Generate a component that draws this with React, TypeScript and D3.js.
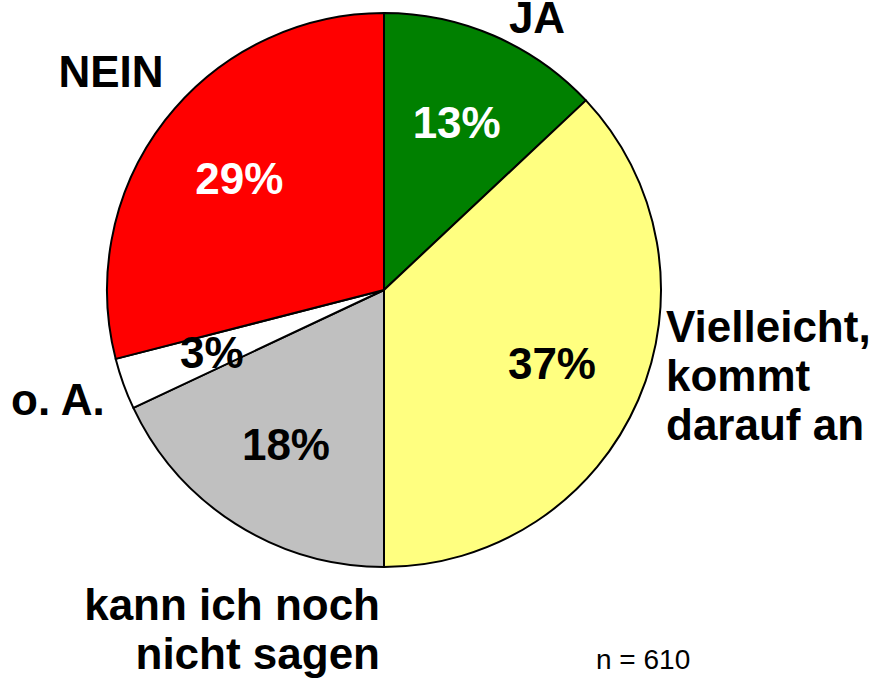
import React, { useEffect, useRef } from 'react';
import * as d3 from 'd3';

// survey answers, clockwise from 12 o'clock
const categories = ['JA', 'Vielleicht, kommt darauf an', 'kann ich noch nicht sagen', 'o. A.', 'NEIN'];
const shares = [13, 37, 18, 3, 29];
const sampleNote = 'n = 610';

const sliceColors = ['#008000', '#FFFF80', '#C0C0C0', '#FFFFFF', '#FF0000'];
const pctColors = ['#FFFFFF', '#000000', '#000000', '#000000', '#FFFFFF'];

// outside category labels: offset from pie centre, anchor, lines
const outerLabels = [
  { dx: 153, dy: -257, anchor: 'middle', lines: ['JA'] },
  { dx: 282, dy: 52, anchor: 'start', lines: ['Vielleicht,', 'kommt', 'darauf an'] },
  { dx: -4, dy: 330, anchor: 'end', lines: ['kann ich noch', 'nicht sagen'] },
  { dx: -373, dy: 125, anchor: 'start', lines: ['o. A.'] },
  { dx: -273, dy: -203, anchor: 'middle', lines: ['NEIN'] },
];

const App = () => {
  const ref = useRef<SVGSVGElement>(null);

  useEffect(() => {
    const width = 870;
    const height = 679;
    const cx = 384;
    const cy = 290;
    const radius = 277;
    const font = 'Liberation Sans, Arial, sans-serif';
    const fontSize = 44;

    const svg = d3.select(ref.current);
    svg.selectAll('*').remove();
    svg.attr('width', width).attr('height', height);

    const data = categories.map((c, i) => ({ name: c, value: shares[i], i }));

    const pie = d3.pie<any>().sort(null).value(d => d.value);
    const arcs = pie(data);

    const arc = d3.arc<any>().innerRadius(0).outerRadius(radius);
    const labelArc = d3.arc<any>().innerRadius(183 * 2).outerRadius(0);

    const g = svg.append('g').attr('transform', `translate(${cx},${cy})`);

    g.selectAll('path.slice')
      .data(arcs)
      .join('path')
      .attr('class', 'slice')
      .attr('d', arc)
      .attr('fill', d => sliceColors[d.data.i])
      .attr('stroke', '#000')
      .attr('stroke-width', 2)
      .attr('stroke-linejoin', 'round');

    // percentages inside slices
    g.selectAll('text.pct')
      .data(arcs)
      .join('text')
      .attr('class', 'pct')
      .attr('transform', d => `translate(${labelArc.centroid(d)})`)
      .attr('text-anchor', 'middle')
      .attr('dy', '0.36em')
      .attr('font-family', font)
      .attr('font-weight', 'bold')
      .attr('font-size', fontSize)
      .attr('fill', d => pctColors[d.data.i])
      .text(d => `${d.data.value}%`);

    // category labels around the pie
    outerLabels.forEach(l => {
      const t = g.append('text')
        .attr('x', l.dx)
        .attr('y', l.dy)
        .attr('text-anchor', l.anchor)
        .attr('font-family', font)
        .attr('font-weight', 'bold')
        .attr('font-size', fontSize)
        .attr('fill', '#000');
      l.lines.forEach((line, k) => {
        t.append('tspan')
          .attr('x', l.dx)
          .attr('dy', k === 0 ? 0 : 49)
          .text(line);
      });
    });

    svg.append('text')
      .attr('x', 596)
      .attr('y', 669)
      .attr('font-family', font)
      .attr('font-size', 28)
      .attr('fill', '#000')
      .text(sampleNote);
  }, []);

  return (
    <svg
      ref={ref}
      style={{ position: 'absolute', left: 0, top: 0, display: 'block', background: '#fff' }}
    />
  );
};

export default App;
